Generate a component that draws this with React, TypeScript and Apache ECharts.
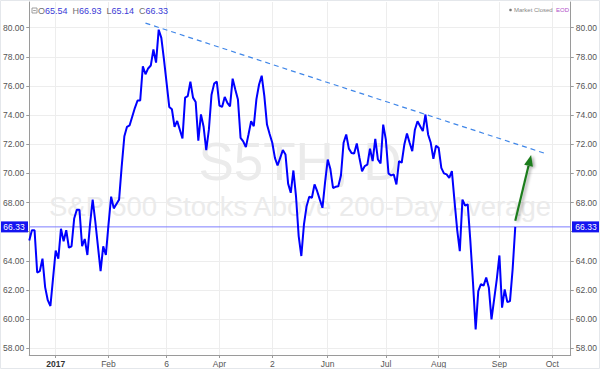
import React, { useEffect, useRef } from "react";
import * as echarts from "echarts";

// trading days counted from 3 Jan 2017 (day 0)
const firstDay = -10;
const lastDay = 195;

const s5th = [
  65.4, 66.1, 66.1, 63.2, 63.3, 64.15, 62.2, 61.3, 60.9, 62.8,
  64.7, 64.15, 66.2, 65.35, 66.1, 64.9, 65.0, 66.9, 67.5, 67.5,
  65.0, 65.5, 64.4, 66.5, 68.2, 66.7, 65.0, 63.3, 65.0, 64.4,
  66.5, 68.4, 67.6, 67.9, 68.2, 70.5, 72.55, 73.2, 73.3, 73.9,
  74.5, 75.0, 75.0, 77.35, 76.8, 77.2, 77.4, 78.5, 77.6, 79.86,
  79.3, 77.8, 76.2, 74.56, 74.4, 73.2, 73.6, 73.0, 72.4, 75.2,
  75.3, 76.3, 75.2, 74.9, 72.25, 74.05, 73.2, 71.6, 73.0, 75.4,
  76.16, 76.3, 74.65, 74.56, 75.25, 74.84, 74.6, 76.5, 75.75, 75.07,
  72.44, 72.2, 71.8, 72.67, 73.58, 73.24, 75.1, 76.1, 76.7, 75.3,
  73.35, 72.7, 72.1, 71.07, 70.54, 71.07, 71.6, 71.3, 69.3, 68.67,
  70.2, 68.4, 65.7, 64.33, 66.5, 67.75, 68.4, 68.33, 69.24, 68.78,
  68.2, 67.64, 69.4, 70.95, 70.3, 69.0, 69.08, 69.12, 69.85, 72.1,
  72.67, 71.7, 71.4, 71.36, 72.05, 71.07, 70.15, 70.5, 70.6, 71.7,
  70.84, 72.37, 70.95, 70.68, 73.35, 72.32, 70.0, 69.86, 69.93, 69.24,
  70.84, 70.73, 71.98, 72.73, 72.1, 71.52, 73.0, 73.58, 73.24, 72.9,
  74.04, 72.67, 72.1, 71.0, 71.9, 71.75, 70.38, 70.0, 69.93, 69.7,
  70.15, 68.1, 66.15, 64.67, 68.2, 67.8, 67.87, 65.35, 62.5, 59.3,
  61.93, 62.4, 62.3, 62.85, 62.16, 59.99, 61.36, 62.73, 64.37, 60.79,
  62.04, 61.17, 61.24, 63.41, 66.33,
];

const tickDays = [0, 20, 42, 62, 82, 103, 125, 145, 168, 188];
const tickLabels = ["2017", "Feb", "6", "Apr", "2", "Jun", "Jul", "Aug", "Sep", "Oct"];
const yTicks = [58, 60, 62, 64, 66, 68, 70, 72, 74, 76, 78, 80];
const yMin = 57.54;
const yMax = 81.76;

const ohlcKeys = ["O", "H", "L", "C"];
const ohlcValues = ["65.54", "66.93", "65.14", "66.33"];
const lastValue = 66.33;

const trendDays = [34, 186];
const trendValues = [80.31, 71.33];
const arrowDays = [174, 180];
const arrowValues = [66.75, 71.26];

const symbolText = "S5TH, D";
const descText = "S&P 500 Stocks Above 200-Day Average";
const statusText = "Market Closed";
const feedText = "EOD";

export default function App() {
  const ref = useRef<HTMLDivElement>(null);

  useEffect(() => {
    const el = ref.current!;
    const chart = echarts.init(el, undefined, { renderer: "svg" });
    const font = "'Liberation Sans', Arial, sans-serif";

    const days: string[] = [];
    for (let d = firstDay; d <= lastDay; d++) days.push(String(d));
    const isTick = (v: string | number) => tickDays.indexOf(Number(v)) >= 0;
    const trendData = days.map((v) => {
      const k = trendDays.indexOf(Number(v));
      return k >= 0 ? trendValues[k] : "-";
    });
    // the label hidden under the last-value box is not drawn
    const yLabelValues = yTicks.filter((v) => Math.abs(v - lastValue) > 1);

    const yAxisBase = (pos: "left" | "right", split: boolean) => ({
      type: "value",
      position: pos,
      min: yMin,
      max: yMax,
      axisLine: { show: true, lineStyle: { color: "#9a9a9a", width: 1 } },
      axisTick: { show: true, length: 3, customValues: yTicks, lineStyle: { color: "#9a9a9a" } },
      axisLabel: {
        customValues: yLabelValues,
        formatter: (v: number) => v.toFixed(2),
        color: "#555",
        fontSize: 8.5,
        fontFamily: font,
        margin: 5,
      },
      splitLine: { show: split, lineStyle: { color: "#ededed", width: 1 } },
    });

    chart.setOption({
      animation: false,
      backgroundColor: "#ffffff",
      grid: { left: 29, right: 29, top: 2, bottom: 14, containLabel: false },
      xAxis: {
        type: "category",
        data: days,
        boundaryGap: false,
        axisLine: { lineStyle: { color: "#9a9a9a", width: 1 } },
        axisTick: {
          interval: (_i: number, v: string) => isTick(v),
          length: 3,
          lineStyle: { color: "#9a9a9a" },
        },
        axisLabel: {
          interval: (_i: number, v: string) => isTick(v),
          formatter: (v: string) => {
            const k = tickDays.indexOf(Number(v));
            if (k < 0) return "";
            return k === 0 ? `{b|${tickLabels[k]}}` : tickLabels[k];
          },
          color: "#555",
          fontSize: 8.5,
          fontFamily: font,
          margin: 4,
          rich: { b: { fontWeight: "bold", color: "#333", fontSize: 8.5, fontFamily: font } },
        },
        splitLine: {
          show: true,
          interval: (_i: number, v: string) => isTick(v),
          lineStyle: { color: "#ededed", width: 1 },
        },
      },
      yAxis: [yAxisBase("left", true), yAxisBase("right", false)],
      series: [
        {
          type: "line",
          data: trendData,
          connectNulls: true,
          symbol: "none",
          silent: true,
          clip: false,
          lineStyle: { color: "#3f86e8", width: 1.2, type: [5, 4] },
          z: 3,
        },
        {
          type: "line",
          data: s5th,
          symbol: "none",
          silent: true,
          lineStyle: { color: "#0000ff", width: 2 },
          z: 5,
        },
      ],
    });

    const yPx = chart.convertToPixel({ yAxisIndex: 0 }, lastValue) as number;
    const a0 = chart.convertToPixel({ xAxisIndex: 0, yAxisIndex: 0 }, [arrowDays[0] - firstDay, arrowValues[0]]) as number[];
    const a1 = chart.convertToPixel({ xAxisIndex: 0, yAxisIndex: 0 }, [arrowDays[1] - firstDay, arrowValues[1]]) as number[];
    const xLeft = chart.convertToPixel({ xAxisIndex: 0 }, 0) as number;
    const xRight = chart.convertToPixel({ xAxisIndex: 0 }, days.length - 1) as number;
    const dx = a1[0] - a0[0];
    const dy = a1[1] - a0[1];
    const len = Math.sqrt(dx * dx + dy * dy);
    const ux = dx / len;
    const uy = dy / len;
    const headLen = 11;
    const headHalf = 4.5;
    const bx = a1[0] - ux * headLen;
    const by = a1[1] - uy * headLen;
    const shadow = { shadowColor: "rgba(0,0,0,0.35)", shadowBlur: 3, shadowOffsetX: 2, shadowOffsetY: 1 };

    const richHeader: Record<string, any> = {
      k: { fill: "#707070", fontSize: 9, fontFamily: font },
      v: { fill: "#3b3bd6", fontSize: 9, fontFamily: font },
    };
    const headerText = ohlcKeys.map((k, i) => `{k|${k}}{v|${ohlcValues[i]}}`).join("  ");

    chart.setOption({
      graphic: [
        {
          type: "text",
          z: 1,
          silent: true,
          x: 300,
          y: 161,
          style: {
            text: symbolText,
            fill: "#ebebeb",
            fontSize: 53,
            fontFamily: font,
            textAlign: "center",
            textVerticalAlign: "middle",
          },
        },
        {
          type: "text",
          z: 1,
          silent: true,
          x: 300,
          y: 206,
          style: {
            text: descText,
            fill: "#ebebeb",
            fontSize: 27.5,
            fontFamily: font,
            textAlign: "center",
            textVerticalAlign: "middle",
          },
        },
        // last value line
        {
          type: "line",
          z: 4,
          silent: true,
          shape: { x1: xLeft, y1: yPx, x2: xRight, y2: yPx },
          style: { stroke: "#7d7dff", lineWidth: 1 },
        },
        {
          type: "rect",
          z: 100,
          silent: true,
          shape: { x: 32, y: 8, width: 5, height: 5 },
          style: { fill: "none", stroke: "#888", lineWidth: 0.8 },
        },
        {
          type: "line",
          z: 100,
          silent: true,
          shape: { x1: 33.2, y1: 10.5, x2: 35.8, y2: 10.5 },
          style: { stroke: "#888", lineWidth: 0.8 },
        },
        {
          type: "text",
          z: 100,
          silent: true,
          x: 38,
          y: 10.7,
          style: { text: headerText, rich: richHeader, textVerticalAlign: "middle", fontSize: 9, fontFamily: font },
        },
        {
          type: "circle",
          z: 100,
          silent: true,
          shape: { cx: 510.5, cy: 10, r: 1.3 },
          style: { fill: "#777" },
        },
        {
          type: "text",
          z: 100,
          silent: true,
          x: 514,
          y: 10,
          style: {
            text: statusText,
            fill: "#888",
            fontSize: 6,
            fontFamily: font,
            textVerticalAlign: "middle",
          },
        },
        {
          type: "text",
          z: 100,
          silent: true,
          x: 556,
          y: 10,
          style: {
            text: feedText,
            fill: "#b04fc8",
            fontSize: 6,
            fontFamily: font,
            textVerticalAlign: "middle",
          },
        },
        // price labels
        {
          type: "rect",
          z: 100,
          silent: true,
          shape: { x: 0, y: yPx - 5.5, width: 28, height: 11 },
          style: { fill: "#1414f0" },
        },
        {
          type: "text",
          z: 101,
          silent: true,
          x: 14,
          y: yPx,
          style: {
            text: lastValue.toFixed(2),
            fill: "#fff",
            fontSize: 8.5,
            fontFamily: font,
            textAlign: "center",
            textVerticalAlign: "middle",
          },
        },
        {
          type: "rect",
          z: 100,
          silent: true,
          shape: { x: 572, y: yPx - 5.5, width: 28, height: 11 },
          style: { fill: "#1414f0" },
        },
        {
          type: "text",
          z: 101,
          silent: true,
          x: 586,
          y: yPx,
          style: {
            text: lastValue.toFixed(2),
            fill: "#fff",
            fontSize: 8.5,
            fontFamily: font,
            textAlign: "center",
            textVerticalAlign: "middle",
          },
        },
        // green arrow
        {
          type: "line",
          z: 90,
          silent: true,
          shape: { x1: a0[0], y1: a0[1], x2: bx, y2: by },
          style: { stroke: "#1f7d1f", lineWidth: 2.2, ...shadow },
        },
        {
          type: "polygon",
          z: 90,
          silent: true,
          shape: {
            points: [
              [a1[0], a1[1]],
              [bx - uy * headHalf, by + ux * headHalf],
              [bx + uy * headHalf, by - ux * headHalf],
            ],
          },
          style: { fill: "#1f7d1f", ...shadow },
        },
        // frame
        {
          type: "rect",
          z: 100,
          silent: true,
          shape: { x: 0.5, y: 0.5, width: 599, height: 368 },
          style: { fill: "none", stroke: "#e4e7eb", lineWidth: 1 },
        },
      ],
    });

    return () => chart.dispose();
  }, []);

  return (
    <div
      ref={ref}
      style={{ position: "absolute", left: 0, top: 0, width: 600, height: 369, background: "#fff" }}
    />
  );
}
